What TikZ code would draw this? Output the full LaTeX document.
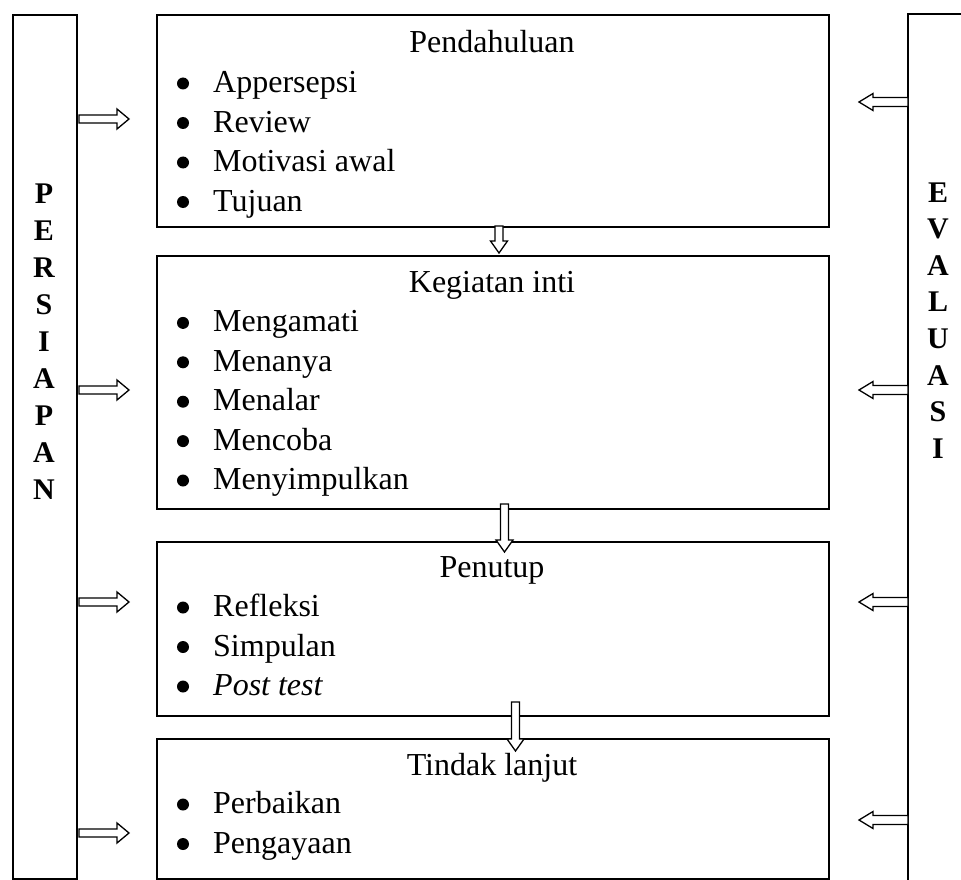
\documentclass[tikz,border=0pt]{standalone}
\usepackage{fontspec}
\setmainfont{Liberation Serif}
\newcommand\blkR[3]{\draw[blk] ({#1},{#3-4}) -- ({#2-12},{#3-4}) -- ({#2-12},{#3-10}) -- ({#2},{#3}) -- ({#2-12},{#3+10}) -- ({#2-12},{#3+4}) -- ({#1},{#3+4}) -- cycle;}
\newcommand\blkL[3]{\draw[blk] ({#1},{#3-4.5}) -- ({#2+14},{#3-4.5}) -- ({#2+14},{#3-8.5}) -- ({#2},{#3}) -- ({#2+14},{#3+8.5}) -- ({#2+14},{#3+4.5}) -- ({#1},{#3+4.5}) -- cycle;}
\newcommand\blkD[3]{\draw[blk] ({#1-4},{#2}) -- ({#1-4},{#3-12}) -- ({#1-8.5},{#3-12}) -- ({#1},{#3}) -- ({#1+8.5},{#3-12}) -- ({#1+4},{#3-12}) -- ({#1+4},{#2}) -- cycle;}
\begin{document}
\begin{tikzpicture}[x={(1pt,0)},y={(0,-1pt)},
  box/.style={draw,line width=1.8pt,inner sep=0pt,anchor=north west},
  blk/.style={draw,line width=1.3pt,fill=white,line join=miter},
  txt/.style={font=\fontsize{32}{36}\selectfont,inner sep=0pt,anchor=base west},
  ttl/.style={font=\fontsize{32}{36}\selectfont,inner sep=0pt,anchor=base},
  bul/.style={circle,fill,inner sep=0pt,minimum size=12pt},
  vlet/.style={font=\fontsize{30}{36}\selectfont\bfseries,inner sep=0pt,anchor=base}]
\useasboundingbox (0,0) rectangle (961,880);
% side boxes
\node[box,minimum width=64pt,minimum height=864pt] (persiapan) at (12,14) {};
\draw[line width=1.8pt] (965,14) -- (908,14) -- (908,884);
\coordinate (evaluasi) at (908,14);
% main boxes
\node[box,minimum width=672pt,minimum height=212pt] (b1) at (156,14) {};
\node[box,minimum width=672pt,minimum height=253pt] (b2) at (156,255) {};
\node[box,minimum width=672pt,minimum height=174pt] (b3) at (156,541) {};
\node[box,minimum width=672pt,minimum height=140pt] (b4) at (156,738) {};
% arrows from PERSIAPAN
\blkR{79}{129}{119}
\blkR{79}{129}{390}
\blkR{79}{129}{602}
\blkR{79}{129}{833}
% arrows from EVALUASI
\blkL{908}{859}{102}
\blkL{908}{859}{390}
\blkL{908}{859}{602}
\blkL{908}{859}{820}
% arrows between boxes
\blkD{499}{226}{253}
\blkD{504.5}{504}{552}
\blkD{515.5}{702}{751}
% vertical words
\foreach \c [count=\i from 0] in {P,E,R,S,I,A,P,A,N}
  \node[vlet] (pl\i) at (44,{203+37.1*\i}) {\c};
\foreach \c [count=\i from 0] in {E,V,A,L,U,A,S,I}
  \node[vlet] (el\i) at (938,{202+36.6*\i}) {\c};
% box 1
\node[ttl] (t1) at (492,53) {Pendahuluan};
\foreach \s [count=\i] in {Appersepsi,Review,Motivasi awal,Tujuan}{
  \node[bul] (b1d\i) at (183,{53+39.5*\i-9}) {};
  \node[txt] (b1t\i) at (213,{53+39.5*\i}) {\s};}
% box 2
\node[ttl] (t2) at (492,292.5) {Kegiatan inti};
\foreach \s [count=\i] in {Mengamati,Menanya,Menalar,Mencoba,Menyimpulkan}{
  \node[bul] (b2d\i) at (183,{292.5+39.4*\i-9}) {};
  \node[txt] (b2t\i) at (213,{292.5+39.4*\i}) {\s};}
% box 3
\node[ttl] (t3) at (492,577) {Penutup};
\foreach \s [count=\i] in {Refleksi,Simpulan,\textit{Post test}}{
  \node[bul] (b3d\i) at (183,{577+39.5*\i-9}) {};
  \node[txt] (b3t\i) at (213,{577+39.5*\i}) {\s};}
% box 4
\node[ttl] (t4) at (492,775) {Tindak lanjut};
\foreach \s [count=\i] in {Perbaikan,Pengayaan}{
  \node[bul] (b4d\i) at (183,{774+39.5*\i-9}) {};
  \node[txt] (b4t\i) at (213,{774+39.5*\i}) {\s};}
\end{tikzpicture}
\end{document}
